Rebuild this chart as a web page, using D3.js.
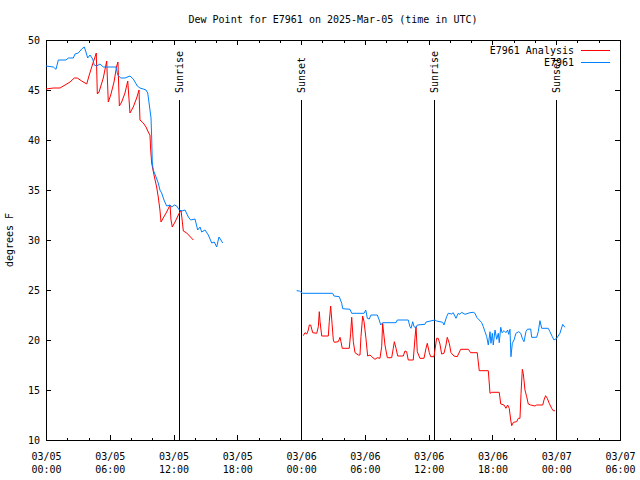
<!DOCTYPE html>
<html><head><meta charset="utf-8">
<script src="https://cdn.jsdelivr.net/npm/d3@7"></script>
<style>
body{margin:0;background:#fff}
text{font-family:"DejaVu Sans Mono","Liberation Mono",monospace;font-size:10px;fill:#000}
</style>
</head><body>
<svg id="chart" width="640" height="480"></svg>
<script>
// ---- data (hours since 2025-03-05 00:00 UTC; null = gap) ----
const titleText = "Dew Point for E7961 on 2025-Mar-05 (time in UTC)";
const yLabel = "degrees F";
const seriesNames = ["E7961 Analysis", "E7961"];
const yTicks = [10, 15, 20, 25, 30, 35, 40, 45, 50];

const analysisHours = [0,0.69,1.32,1.79,2.26,2.66,2.94,3.36,3.83,4.07,4.39,4.61,4.73,4.83,4.99,5.39,5.71,5.86,6.09,6.4,6.65,6.77,6.9,7.12,7.43,7.69,7.9,8.21,8.53,8.75,8.84,9.15,9.41,9.62,9.78,9.85,9.94,10.16,10.41,10.56,10.72,10.82,11.03,11.35,11.67,11.76,11.88,12.14,12.45,12.7,12.86,12.92,13.24,13.86,
 19,
 24.2,24.37,24.53,24.68,24.77,24.9,25.09,25.47,25.62,25.71,25.78,25.94,26.56,26.65,26.78,26.91,27.03,27.12,27.5,27.66,27.75,27.87,28.53,28.66,28.76,28.91,29.07,29.38,29.54,29.63,29.79,29.92,30.1,30.26,30.48,30.64,30.95,31.17,31.42,31.58,31.67,31.89,32.11,32.52,32.67,32.77,32.93,33.09,33.61,33.77,33.93,34.08,34.55,34.71,34.81,34.93,35.18,35.56,35.75,35.87,36.06,36.19,36.5,36.75,36.9,37.06,37.22,37.44,37.63,37.75,37.94,38.1,38.38,38.69,39.01,39.73,39.95,40.57,40.76,41.61,41.77,41.93,42.64,42.78,43.09,43.27,43.43,43.58,43.72,43.81,43.97,44.28,44.43,44.59,44.69,44.81,44.9,45.06,45.22,45.37,45.6,46.0,46.16,46.73,46.85,47.0,47.16,47.34,47.57,47.72,47.88];
const analysisValues = [45.1,45.2,45.2,45.5,45.8,46.2,46.2,45.9,45.6,46.5,47.6,48.3,48.7,44.6,44.8,46.2,47.9,43.8,44.5,45.8,47.4,47.8,43.4,43.8,44.7,45.9,42.7,43.3,44.2,45.0,42.0,41.7,41.3,40.8,40.5,39.0,37.7,36.5,35.3,34.3,33.0,31.8,32.2,32.8,33.5,32.0,31.3,31.8,32.5,33.0,31.5,30.9,30.7,30.0,
 null,
 20.43,20.73,20.6,21.0,21.5,21.5,20.73,20.67,21.33,22.83,21.83,20.4,20.4,21.83,23.4,21.67,20.0,19.77,19.83,20.27,19.83,19.17,19.17,20.67,22.27,19.83,18.73,18.5,18.5,20.33,22.4,21.83,20.17,18.4,18.5,18.33,18.07,18.23,18.17,19.33,21.67,19.5,18.23,18.23,19.17,19.83,19.17,18.4,18.4,18.9,18.83,18.0,18.0,20.17,21.33,18.83,18.17,18.17,19.17,19.67,18.73,18.33,18.33,20.17,20.17,19.6,18.6,18.67,19.5,20.27,19.67,18.73,18.4,18.33,19.07,19.07,18.73,18.73,16.93,16.93,14.67,14.77,14.77,13.6,13.5,13.17,13.5,13.17,12.0,11.43,11.77,11.83,12.17,12.17,14.67,17.07,16.67,15.0,14.33,13.6,13.5,13.4,13.5,13.5,14.0,14.43,14.17,13.67,13.17,12.93,12.93];

const stationHours = [0,0.69,0.94,1.16,1.88,2.1,2.57,2.73,3.04,3.36,3.6,3.76,3.92,4.14,4.39,4.54,4.77,5.08,5.39,6.59,6.75,7.03,7.43,7.9,8.21,8.59,8.84,9.15,9.41,9.57,9.72,9.88,9.94,10.0,10.09,10.35,10.56,10.72,10.88,11.1,11.35,11.67,11.83,12.07,12.3,12.54,12.77,13.08,13.39,13.61,14.02,14.27,14.49,14.65,14.96,15.27,15.59,15.83,16.06,16.27,16.46,16.62,
 20,
 23.58,23.83,24.15,26.97,27.09,27.59,27.82,27.91,28.6,28.76,29.92,30.08,30.23,30.41,30.57,31.17,31.35,31.49,31.67,32.93,33.05,34.08,34.24,34.34,34.5,34.62,34.81,34.93,35.65,35.75,36.59,36.75,37.32,37.44,37.69,37.84,38.16,38.31,38.57,38.78,38.94,39.1,39.42,39.89,40.2,40.36,40.52,40.76,40.99,41.14,41.3,41.46,41.61,41.77,41.86,41.99,42.08,42.24,42.4,42.55,42.64,42.78,42.9,43.09,43.27,43.43,43.53,43.65,43.74,43.87,44.03,44.21,44.47,44.66,44.84,44.97,45.15,45.28,45.6,45.69,46.16,46.31,46.47,46.63,47.25,47.41,47.63,47.79,48.04,48.35,48.61,48.82];
const stationValues = [47.4,47.3,47.07,48.0,48.0,48.2,48.2,48.6,48.7,49.1,49.3,48.8,48.2,48.5,48.1,47.5,47.4,47.6,47.3,47.3,46.5,46.2,46.2,46.4,46.1,45.4,45.2,45.1,45.0,44.7,43.5,42.2,40.3,37.7,37.0,36.3,35.7,35.0,34.7,34.0,33.4,33.5,33.3,33.5,33.4,33.0,32.9,33.0,32.3,32.0,32.1,31.0,31.3,30.8,31.0,30.5,29.7,29.8,29.3,30.3,30.0,29.7,
 null,
 24.93,24.9,24.67,24.67,24.4,24.33,23.67,23.13,23.07,22.67,22.67,23.0,22.17,22.1,22.5,22.5,22.0,21.5,21.73,21.73,22.0,22.0,21.33,21.17,21.83,21.33,21.23,21.5,21.57,21.8,22.0,21.9,21.77,21.5,22.33,22.67,22.6,22.73,22.17,22.67,22.57,22.77,22.57,22.73,22.77,22.67,22.27,22.0,21.73,21.33,20.83,20.33,19.5,20.83,19.67,20.67,19.5,21.0,20.07,20.67,19.73,21.27,20.73,20.93,20.73,21.0,20.57,21.07,18.33,19.67,20.0,20.67,20.83,20.67,20.07,19.83,20.83,21.07,21.1,20.27,20.27,20.83,21.93,21.17,21.17,20.83,20.33,20.0,20.17,20.67,21.57,21.27];

const sunEventHours = [12.54, 23.96, 36.53, 48.02];
const sunEventNames = ["Sunrise", "Sunset", "Sunrise", "Sunset"];

const seriesColors = ["#ff0000", "#0080ff"];

// ---- layout ----
const svg = d3.select("#chart");
const L = 46, R = 620, T = 40, B = 440;
const base = Date.UTC(2025, 2, 5);
const toDate = h => new Date(base + h * 3600e3);

const x = d3.scaleUtc().domain([toDate(0), toDate(54)]).range([L, R]);
const y = d3.scaleLinear().domain([10, 50]).range([B, T]);

const fmtDay = d3.utcFormat("%m/%d"), fmtTime = d3.utcFormat("%H:%M");
const majorTicks = x.ticks(d3.utcHour.every(6));
const minorTicks = x.ticks(d3.utcHour.every(2));

// title
svg.append("text").attr("x", 333).attr("y", 23).attr("text-anchor", "middle").text(titleText);

// y label
svg.append("text").attr("transform", "translate(13,240) rotate(-90)")
  .attr("text-anchor", "middle").text(yLabel);

const g = svg.append("g").attr("shape-rendering", "crispEdges");

// minor x ticks (bottom/top)
const tick = (x1, y1, x2, y2) => g.append("line").attr("x1", x1).attr("y1", y1).attr("x2", x2).attr("y2", y2)
  .attr("stroke", "#000").attr("stroke-width", 1);
minorTicks.forEach(d => {
  const px = Math.round(x(d)) + 0.5;
  tick(px, B, px, B - 2.5); tick(px, T, px, T + 2.5);
});
majorTicks.forEach(d => {
  const px = Math.round(x(d)) + 0.5;
  tick(px, B, px, B - 5); tick(px, T, px, T + 5);
});
yTicks.forEach(v => {
  const py = Math.round(y(v)) + 0.5;
  tick(L, py, L + 5, py); tick(R, py, R - 5, py);
});

// x axis labels via d3 axis (ticks hidden)
const xAxis = d3.axisBottom(x).tickValues(majorTicks).tickSize(0).tickFormat("");
const xa = svg.append("g").attr("transform", `translate(0,${B})`).call(xAxis);
xa.select(".domain").remove();
xa.selectAll(".tick").each(function(d) {
  const t = d3.select(this).append("text").attr("text-anchor", "middle").attr("fill", "#000");
  t.append("tspan").attr("x", 0).attr("y", 20).text(fmtDay(d));
  t.append("tspan").attr("x", 0).attr("y", 33).text(fmtTime(d));
});

// y axis labels
const yAxis = d3.axisLeft(y).tickValues(yTicks).tickSize(0).tickPadding(6).tickFormat(d3.format("d"));
const ya = svg.append("g").attr("transform", `translate(${L},0)`).call(yAxis);
ya.select(".domain").remove();
ya.selectAll("text").attr("font-family", null).attr("font-size", null).attr("dy", "0.35em");

// sun event lines
sunEventHours.forEach((h, i) => {
  const px = Math.round(x(toDate(h))) + 0.5;
  g.append("line").attr("x1", px).attr("x2", px).attr("y1", 100).attr("y2", B)
    .attr("stroke", "#000").attr("stroke-width", 1);
  svg.append("text").attr("transform", `translate(${px},93) rotate(-90)`)
    .attr("dy", "0.35em").attr("text-anchor", "start").text(sunEventNames[i]);
});

// data lines
const line = d3.line()
  .defined(d => d[1] !== null)
  .x(d => x(toDate(d[0]))).y(d => y(d[1]));
const analysis = analysisHours.map((h, i) => [h, analysisValues[i]]);
const station = stationHours.map((h, i) => [h, stationValues[i]]);

svg.append("path").datum(analysis).attr("d", line).attr("fill", "none")
  .attr("stroke", seriesColors[0]).attr("stroke-width", 1);
svg.append("path").datum(station).attr("d", line).attr("fill", "none")
  .attr("stroke", seriesColors[1]).attr("stroke-width", 1);

// frame
g.append("rect").attr("x", L + 0.5).attr("y", T + 0.5).attr("width", R - L).attr("height", B - T)
  .attr("fill", "none").attr("stroke", "#000").attr("stroke-width", 1);

// legend
seriesNames.forEach((n, i) => {
  const ly = 50 + i * 12;
  svg.append("text").attr("x", 574).attr("y", ly).attr("dy", "0.35em").attr("text-anchor", "end").text(n);
  g.append("line").attr("x1", 581).attr("x2", 610).attr("y1", ly + 0.5).attr("y2", ly + 0.5)
    .attr("stroke", seriesColors[i]).attr("stroke-width", 1);
});
</script>
</body></html>
